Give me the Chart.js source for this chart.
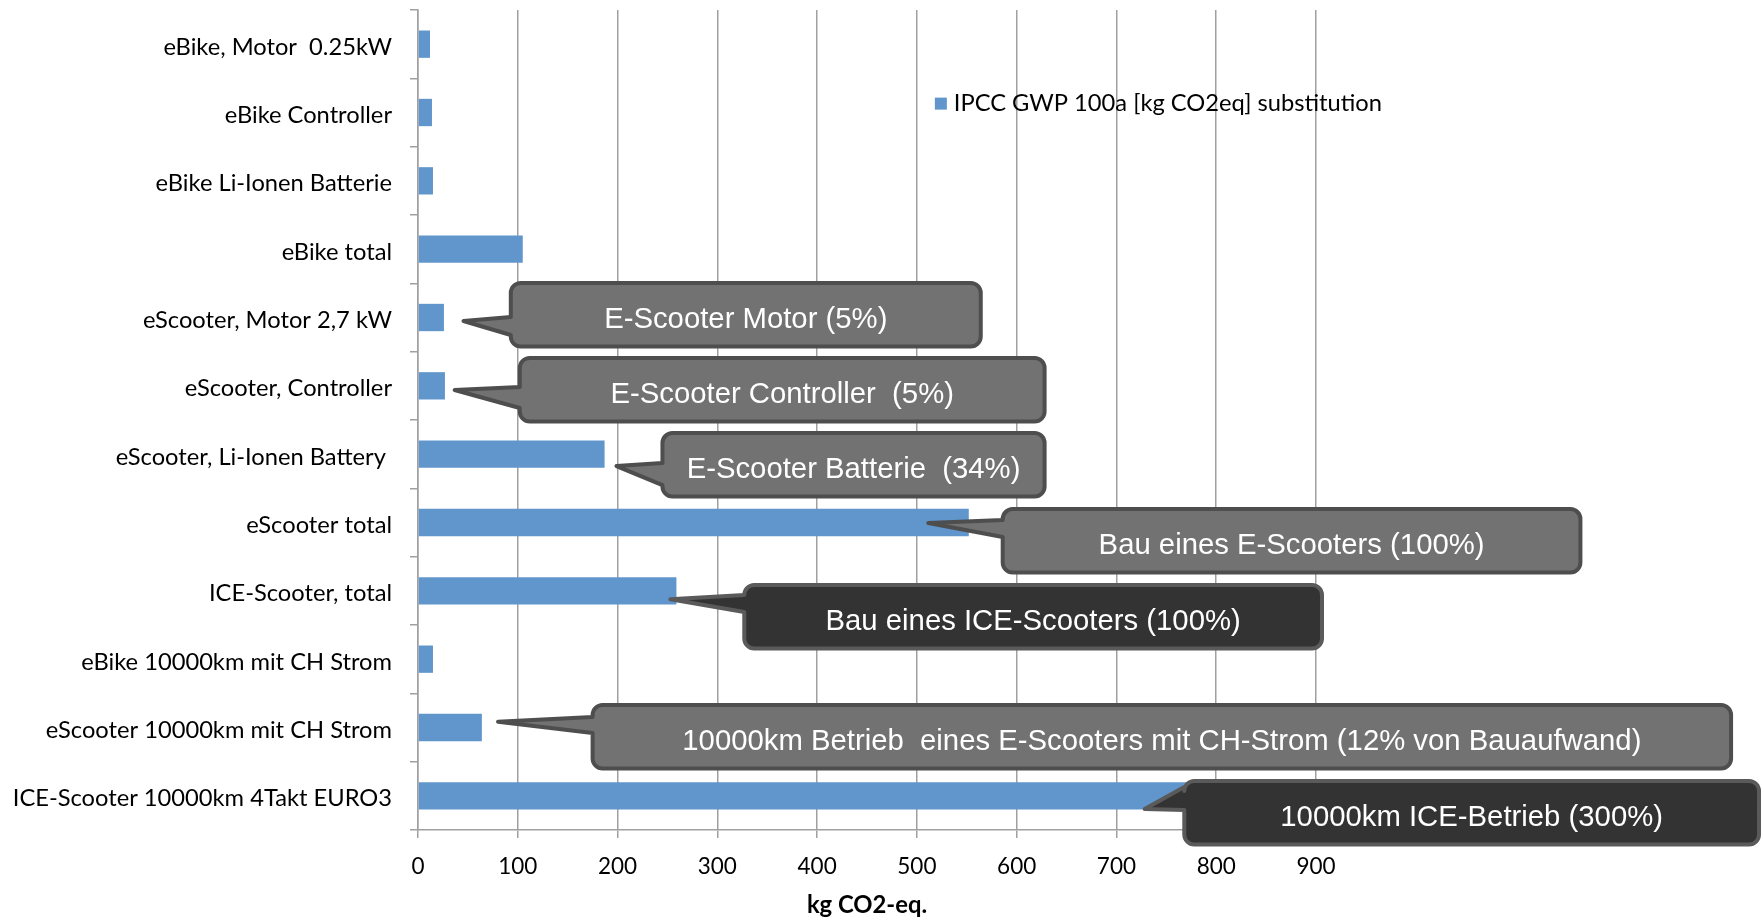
<!DOCTYPE html>
<html>
<head>
<meta charset="utf-8">
<script src="https://cdn.jsdelivr.net/npm/chart.js@4.4.1/dist/chart.umd.min.js"></script>
<style>
  html, body { margin: 0; padding: 0; background: #ffffff; }
  #wrap { width: 1762px; height: 920px; }
</style>
</head>
<body>
<div id="wrap"><canvas id="chart" width="1762" height="920"></canvas></div>
<script>
// Greenhouse-gas footprint of e-bikes, e-scooters and combustion scooters
const categories = [
  'eBike, Motor  0.25kW',
  'eBike Controller',
  'eBike Li-Ionen Batterie',
  'eBike total',
  'eScooter, Motor 2,7 kW',
  'eScooter, Controller',
  'eScooter, Li-Ionen Battery ',
  'eScooter total',
  'ICE-Scooter, total',
  'eBike 10000km mit CH Strom',
  'eScooter 10000km mit CH Strom',
  'ICE-Scooter 10000km 4Takt EURO3'
];
const gwpValues = [12, 14, 15, 105, 26, 27, 187, 552, 259, 15, 64, 777];
const xTickValues = [0, 100, 200, 300, 400, 500, 600, 700, 800, 900];
const seriesName = 'IPCC GWP 100a [kg CO2eq] substitution';
const axisTitle = 'kg CO2-eq.';

const calloutTexts = [
  'E-Scooter Motor (5%)',
  'E-Scooter Controller  (5%)',
  'E-Scooter Batterie  (34%)',
  'Bau eines E-Scooters (100%)',
  'Bau eines ICE-Scooters (100%)',
  '10000km Betrieb  eines E-Scooters mit CH-Strom (12% von Bauaufwand)',
  '10000km ICE-Betrieb (300%)'
];

// Placement of each speech bubble: x in axis units, y in category units
const calloutPlacement = [
  { x0: 93,  x1: 564,  top: 3.495, tipX: 45.6,  tipY: 4.051, base: [3.993, 4.256], dark: false },
  { x0: 102, x1: 628,  top: 4.593, tipX: 36.7,  tipY: 5.061, base: [5.017, 5.325], dark: false },
  { x0: 245, x1: 628,  top: 5.691, tipX: 198.9, tipY: 6.174, base: [6.130, 6.452], dark: false },
  { x0: 586, x1: 1165, top: 6.803, tipX: 511.4, tipY: 7.008, base: [6.964, 7.213], dark: false },
  { x0: 327, x1: 906,  top: 7.915, tipX: 252.9, tipY: 8.124, base: [8.061, 8.310], dark: true },
  { x0: 175, x1: 1316, top: 9.671, tipX: 80.2,  tipY: 9.915, base: [9.846, 10.08], dark: false },
  { x0: 768, x1: 1344, top: 10.783, tipX: 728.3, tipY: 11.193, base: [10.871, 11.207], dark: true }
];

const BAR_COLOR = '#6096CC';
const GRID_COLOR = '#A0A0A0';
const LABEL_FONT = 'Lato, "Open Sans", sans-serif';
const BUBBLE_FONT = '"Liberation Sans", Arial, sans-serif';

function bubblePath(ctx, x0, y0, x1, y1, r, tx, ty, b1, b2) {
  ctx.beginPath();
  ctx.moveTo(x0 + r, y0);
  ctx.lineTo(x1 - r, y0);
  ctx.arcTo(x1, y0, x1, y0 + r, r);
  ctx.lineTo(x1, y1 - r);
  ctx.arcTo(x1, y1, x1 - r, y1, r);
  ctx.lineTo(x0 + r, y1);
  ctx.arcTo(x0, y1, x0, y1 - r, r);
  ctx.lineTo(x0, b2);
  ctx.lineTo(tx, ty);
  ctx.lineTo(x0, b1);
  ctx.lineTo(x0, y0 + r);
  ctx.arcTo(x0, y0, x0 + r, y0, r);
  ctx.closePath();
}

const seriesKey = {
  id: 'seriesKey',
  afterDatasetsDraw(chart) {
    const { ctx } = chart;
    const xs = chart.scales.x, ys = chart.scales.y;
    const kx = xs.getPixelForValue(518);
    const ky = ys.getPixelForValue(0) + 0.87 * (ys.getPixelForValue(1) - ys.getPixelForValue(0));
    ctx.save();
    ctx.fillStyle = chart.data.datasets[0].backgroundColor;
    ctx.fillRect(kx, ky - 6, 12, 12);
    ctx.fillStyle = '#000';
    ctx.font = '23.7px ' + LABEL_FONT;
    ctx.textAlign = 'left';
    ctx.textBaseline = 'middle';
    ctx.fillText(chart.data.datasets[0].label, kx + 19, ky);
    ctx.restore();
  }
};

const bubbles = {
  id: 'bubbles',
  afterDraw(chart) {
    const { ctx } = chart;
    const xs = chart.scales.x, ys = chart.scales.y;
    const band = ys.getPixelForValue(1) - ys.getPixelForValue(0);
    const yAt = c => ys.getPixelForValue(0) + c * band;
    ctx.save();
    calloutPlacement.forEach((p, i) => {
      const x0 = xs.getPixelForValue(p.x0), x1 = xs.getPixelForValue(p.x1);
      const y0 = yAt(p.top), y1 = y0 + 0.93 * band;
      bubblePath(ctx, x0, y0, x1, y1, 10,
        xs.getPixelForValue(p.tipX), yAt(p.tipY), yAt(p.base[0]), yAt(p.base[1]));
      ctx.fillStyle = p.dark ? '#333333' : '#727272';
      ctx.fill();
      ctx.lineJoin = 'round';
      ctx.lineWidth = 4;
      ctx.strokeStyle = p.dark ? '#5A5A5A' : '#4E4E4E';
      ctx.stroke();
      ctx.fillStyle = '#ffffff';
      ctx.font = '29.3px ' + BUBBLE_FONT;
      ctx.textAlign = 'center';
      ctx.textBaseline = 'middle';
      ctx.fillText(calloutTexts[i], (x0 + x1) / 2, (y0 + y1) / 2 + 5);
    });
    ctx.restore();
  }
};

new Chart(document.getElementById('chart').getContext('2d'), {
  type: 'bar',
  data: {
    labels: categories,
    datasets: [{
      label: seriesName,
      data: gwpValues,
      backgroundColor: BAR_COLOR,
      borderWidth: 0,
      barPercentage: 0.4,
      categoryPercentage: 1
    }]
  },
  options: {
    indexAxis: 'y',
    responsive: false,
    animation: false,
    devicePixelRatio: 1,
    layout: { padding: { left: 0, right: 446, top: 10, bottom: 0 } },
    plugins: { legend: { display: false }, tooltip: { enabled: false } },
    scales: {
      x: {
        type: 'linear',
        position: 'bottom',
        min: 0,
        max: 900,
        afterBuildTicks: s => { s.ticks = xTickValues.map(v => ({ value: v })); },
        ticks: { color: '#000', font: { family: LABEL_FONT, size: 22.5 }, padding: 15, maxRotation: 0 },
        grid: { color: GRID_COLOR, lineWidth: 1.5, tickLength: 8 },
        border: { color: GRID_COLOR, width: 1.5 },
        title: {
          display: true,
          text: axisTitle,
          color: '#000',
          font: { family: LABEL_FONT, size: 23.8, weight: 'bold' },
          padding: { top: 0, bottom: 0 }
        },
        afterFit: s => { s.height = 90; s.paddingLeft = 0; s.paddingRight = 0; }
      },
      y: {
        ticks: { color: '#000', font: { family: LABEL_FONT, size: 23.7 }, padding: 18, labelOffset: 3 },
        grid: { drawOnChartArea: false, color: GRID_COLOR, lineWidth: 1.5, tickLength: 8, offset: true },
        border: { color: GRID_COLOR, width: 1.5 },
        afterFit: s => { s.width = 418; s.paddingTop = 0; s.paddingBottom = 0; }
      }
    }
  },
  plugins: [seriesKey, bubbles]
});
</script>
</body>
</html>
